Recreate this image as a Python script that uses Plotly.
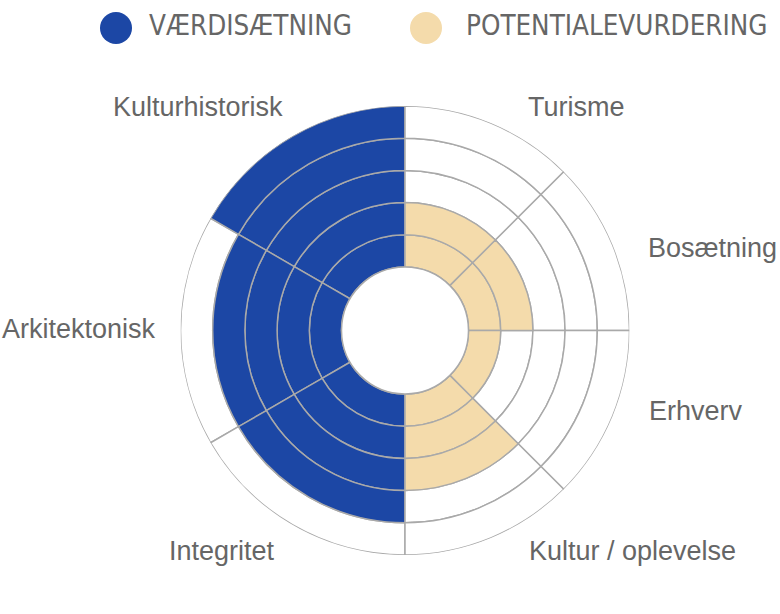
import plotly.graph_objects as go

# ---- data ----
series_names = ["VÆRDISÆTNING", "POTENTIALEVURDERING"]
vaerdi_categories = ["Kulturhistorisk", "Arkitektonisk", "Integritet"]
vaerdi_values = [5, 4, 4]
potentiale_categories = ["Turisme", "Bosætning", "Erhverv", "Kultur / oplevelse"]
potentiale_values = [2, 2, 1, 3]
max_level = 5

# ---- style ----
W, H = 780, 614
BLUE = "#1c47a5"
TAN = "#f4dbab"
GRID = "#a9a9a9"
TEXT = "#666666"
CX, CY, R_OUT, R_HOLE = 405, 330.5, 224.5, 63.5

fig = go.Figure()

def segments(values, start, span, sign):
    n = len(values)
    w = span / n
    centers = [start + sign * w * (i + 0.5) for i in range(n)]
    col_t, col_b, wh_t, wh_b = [], [], [], []
    for c, v in zip(centers, values):
        for k in range(max_level):
            if k < v:
                col_t.append(c); col_b.append(k)
            else:
                wh_t.append(c); wh_b.append(k)
    return w, col_t, col_b, wh_t, wh_b

for vals, start, sign, color, name in [
    (vaerdi_values, 90, 1, BLUE, series_names[0]),
    (potentiale_values, 90, -1, TAN, series_names[1]),
]:
    w, ct, cb, wt, wb = segments(vals, start, 180, sign)
    fig.add_trace(go.Barpolar(theta=wt, base=wb, r=[1] * len(wt), width=[w] * len(wt),
                              marker=dict(color="white", line=dict(color=GRID, width=1.5)),
                              showlegend=False, hoverinfo="skip"))
    fig.add_trace(go.Barpolar(theta=ct, base=cb, r=[1] * len(ct), width=[w] * len(ct),
                              marker=dict(color=color, line=dict(color=GRID, width=1.5)),
                              name=name, showlegend=False))

fig.update_layout(
    width=W, height=H,
    margin=dict(l=0, r=0, t=0, b=0),
    paper_bgcolor="white",
    showlegend=False,
    polar=dict(
        domain=dict(x=[(CX - R_OUT) / W, (CX + R_OUT) / W],
                    y=[(H - CY - R_OUT) / H, (H - CY + R_OUT) / H]),
        hole=R_HOLE / R_OUT,
        barmode="overlay",
        bgcolor="white",
        radialaxis=dict(range=[0, max_level], visible=False),
        angularaxis=dict(visible=False, rotation=0, direction="counterclockwise"),
    ),
)

# hole outline
fig.add_shape(type="circle", xref="paper", yref="paper",
              x0=(CX - R_HOLE) / W, x1=(CX + R_HOLE) / W,
              y0=(H - CY - R_HOLE) / H, y1=(H - CY + R_HOLE) / H,
              line=dict(color=GRID, width=1.5), fillcolor="rgba(0,0,0,0)")

# category labels
label_font = dict(family="Liberation Sans, Arial, sans-serif", size=27, color=TEXT)
label_pos = {
    "Kulturhistorisk": (198, 107), "Arkitektonisk": (79, 329), "Integritet": (222, 551),
    "Turisme": (576, 107), "Bosætning": (712, 248), "Erhverv": (696, 411),
    "Kultur / oplevelse": (632, 551),
}
for cat in vaerdi_categories + potentiale_categories:
    x, y = label_pos[cat]
    fig.add_annotation(text=cat, x=x / W, y=(H - y) / H, xref="paper", yref="paper",
                       xanchor="center", yanchor="middle", showarrow=False, font=label_font)

# legend
legend_font = dict(family="Liberation Sans Narrow, DejaVu Sans Condensed, sans-serif", size=27.5, color=TEXT)
for name, color, cx, tx in [(series_names[0], BLUE, 116, 147), (series_names[1], TAN, 426, 464)]:
    r = 16
    fig.add_shape(type="circle", xref="paper", yref="paper",
                  x0=(cx - r) / W, x1=(cx + r) / W, y0=(H - 28 - r) / H, y1=(H - 28 + r) / H,
                  fillcolor=color, line=dict(width=0))
    fig.add_annotation(text=name, x=tx / W, y=(H - 25) / H, xref="paper", yref="paper",
                       xanchor="left", yanchor="middle", showarrow=False, font=legend_font)

fig.write_html("out.html", config={"displayModeBar": False},
               post_script="document.body.style.margin='0';")
